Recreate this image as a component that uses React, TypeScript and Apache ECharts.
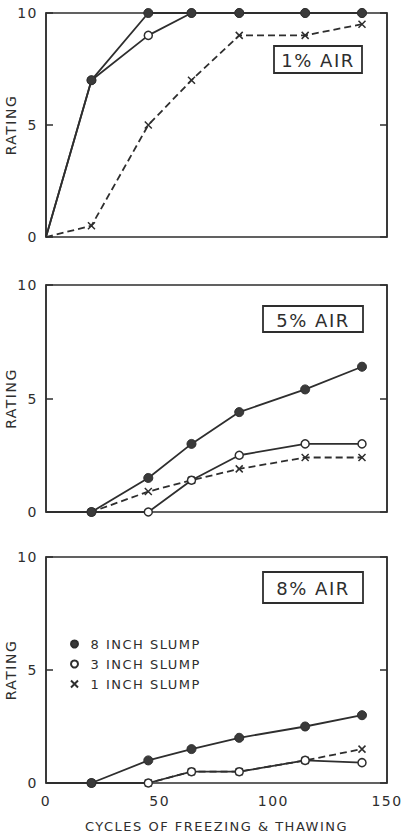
import React, { useEffect, useRef } from "react";
import * as echarts from "echarts";

// Cycles of freezing & thawing (x values shared by all curves)
const CYCLES = [0, 20, 45, 64, 85, 114, 139];

// 1% air
const AIR1_SLUMP8 = [0, 7, 10, 10, 10, 10, 10];
const AIR1_SLUMP3 = [0, 7, 9, 10, 10, 10, 10];
const AIR1_SLUMP1 = [0, 0.5, 5, 7, 9, 9, 9.5];

// 5% air
const AIR5_SLUMP8 = [0, 0, 1.5, 3, 4.4, 5.4, 6.4];
const AIR5_SLUMP3 = [0, 0, 0, 1.4, 2.5, 3, 3];
const AIR5_SLUMP1 = [0, 0, 0.9, 1.4, 1.9, 2.4, 2.4];

// 8% air
const AIR8_SLUMP8 = [0, 0, 1, 1.5, 2, 2.5, 3];
const AIR8_SLUMP3 = [0, 0, 0, 0.5, 0.5, 1, 0.9];
const AIR8_SLUMP1 = [0, 0, 0, 0.5, 0.5, 1, 1.5];

const PANEL_LABELS = ["1% AIR", "5% AIR", "8% AIR"];
const SERIES_NAMES = ["8 INCH SLUMP", "3 INCH SLUMP", "1 INCH SLUMP"];
const X_TITLE = "CYCLES OF FREEZING & THAWING";
const Y_TITLE = "RATING";

const INK = "#2e2e2e";
const FONT = "DejaVu Sans";
const CROSS = "path://M0,0L10,10M0,10L10,0";

const GRIDS = [
  { left: 46, top: 13, width: 341, height: 224 },
  { left: 46, top: 285, width: 341, height: 227 },
  { left: 46, top: 557, width: 341, height: 226 },
];

const BOXES = [
  { x: 274, y: 46, w: 88, h: 27 },
  { x: 263, y: 306, w: 100, h: 26 },
  { x: 263, y: 572, w: 100, h: 31 },
];

function makeSeries(name: string, values: number[], gi: number, kind: number) {
  const data = CYCLES.map((c, i) =>
    i === 0 ? { value: [c, values[i]], symbol: "none" } : [c, values[i]]
  );
  const base: any = {
    type: "line",
    name,
    xAxisIndex: gi,
    yAxisIndex: gi,
    data,
    lineStyle: { color: INK, width: 1.8, type: kind === 2 ? [7, 4] : "solid" },
    emphasis: { disabled: true },
  };
  if (kind === 0) {
    base.symbol = "circle";
    base.symbolSize = 9;
    base.itemStyle = { color: "#3a3a3a", borderColor: INK, borderWidth: 1 };
    base.z = 4;
  } else if (kind === 1) {
    base.symbol = "circle";
    base.symbolSize = 8;
    base.itemStyle = { color: "#ffffff", borderColor: INK, borderWidth: 1.5 };
    base.z = 3;
  } else {
    base.symbol = CROSS;
    base.symbolSize = 7;
    base.itemStyle = { color: INK, borderColor: INK, borderWidth: 1.5 };
    base.z = 2;
  }
  return base;
}

export default function App() {
  const ref = useRef<HTMLDivElement>(null);
  useEffect(() => {
    if (!ref.current) return;
    const chart = echarts.init(ref.current, undefined, { renderer: "svg" });
    const panels = [
      [AIR1_SLUMP8, AIR1_SLUMP3, AIR1_SLUMP1],
      [AIR5_SLUMP8, AIR5_SLUMP3, AIR5_SLUMP1],
      [AIR8_SLUMP8, AIR8_SLUMP3, AIR8_SLUMP1],
    ];
    const series: any[] = [];
    panels.forEach((vals, gi) => {
      series.push(makeSeries(SERIES_NAMES[2], vals[2], gi, 2));
      series.push(makeSeries(SERIES_NAMES[1], vals[1], gi, 1));
      series.push(makeSeries(SERIES_NAMES[0], vals[0], gi, 0));
    });

    const xAxis = GRIDS.map((_, gi) => ({
      type: "value",
      gridIndex: gi,
      min: 0,
      max: 150,
      interval: 50,
      axisLine: { show: false },
      axisTick: { show: false },
      splitLine: { show: false },
      axisLabel: {
        show: gi === 2,
        fontSize: 14,
        fontFamily: FONT,
        color: INK,
        margin: 11,
      },
      name: gi === 2 ? X_TITLE : "",
      nameLocation: "middle",
      nameGap: 37,
      nameMoveOverlap: false,
      nameTextStyle: { fontSize: 13, fontFamily: FONT, color: INK },
    }));

    const yLeft = GRIDS.map((_, gi) => ({
      type: "value",
      gridIndex: gi,
      position: "left",
      min: 0,
      max: 10,
      interval: 5,
      axisLine: { show: true, lineStyle: { color: INK, width: 1.5 } },
      axisTick: { show: true, inside: true, length: 7, lineStyle: { color: INK, width: 1.5 } },
      splitLine: { show: false },
      axisLabel: { fontSize: 14, fontFamily: FONT, color: INK, margin: 8 },
      name: Y_TITLE,
      nameLocation: "middle",
      nameGap: 28,
      nameRotate: 90,
      nameMoveOverlap: false,
      nameTextStyle: { fontSize: 14, fontFamily: FONT, color: INK },
    }));

    const yRight = GRIDS.map((_, gi) => ({
      type: "value",
      gridIndex: gi,
      position: "right",
      min: 0,
      max: 10,
      interval: 5,
      axisLine: { show: true, lineStyle: { color: INK, width: 1.5 } },
      axisTick: { show: true, inside: true, length: 7, lineStyle: { color: INK, width: 1.5 } },
      splitLine: { show: false },
      axisLabel: { show: false },
    }));

    const graphic: any[] = BOXES.map((b, i) => ({
      type: "group",
      children: [
        {
          type: "rect",
          shape: { x: b.x, y: b.y, width: b.w, height: b.h },
          style: { fill: "#ffffff", stroke: INK, lineWidth: 1.8 },
          z: 10,
        },
        {
          type: "text",
          x: b.x + b.w / 2,
          y: b.y + b.h / 2 + 1,
          style: {
            text: PANEL_LABELS[i],
            fontSize: 18,
            fontFamily: FONT,
            fill: INK,
            align: "center",
            verticalAlign: "middle",
          },
          z: 11,
        },
      ],
    }));

    chart.setOption({
      animation: false,
      backgroundColor: "#ffffff",
      grid: GRIDS.map((g) => ({
        ...g,
        show: true,
        borderColor: INK,
        borderWidth: 1.5,
        backgroundColor: "transparent",
        containLabel: false,
        outerBoundsMode: "none",
      })),
      xAxis,
      yAxis: [...yLeft, ...yRight],
      legend: {
        orient: "vertical",
        left: 65,
        top: 632,
        itemWidth: 22,
        itemHeight: 7,
        itemGap: 6,
        selectedMode: false,
        textStyle: { fontSize: 13, fontFamily: FONT, color: INK, lineHeight: 14 },
        data: [
          { name: SERIES_NAMES[0], icon: "circle" },
          { name: SERIES_NAMES[1], icon: "circle" },
          { name: SERIES_NAMES[2], icon: CROSS },
        ],
      },
      graphic,
      series,
    });
    return () => chart.dispose();
  }, []);
  return (
    <div
      ref={ref}
      style={{
        position: "absolute",
        left: 0,
        top: 0,
        width: 404,
        height: 835,
        letterSpacing: "1.5px",
        background: "#ffffff",
      }}
    />
  );
}
